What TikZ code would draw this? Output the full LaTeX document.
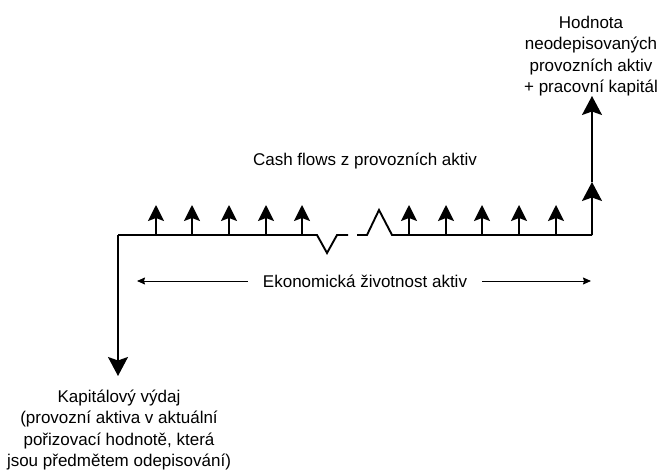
\documentclass[tikz,border=0pt]{standalone}
\usepackage{fontspec}
\setmainfont{Liberation Sans}
\usetikzlibrary{arrows.meta}

\begin{document}
\begin{tikzpicture}[x=1pt, y=-1pt, >=latex,
  timeline/.style={line width=1.9pt, line join=miter},
  flow/.style={line width=1.9pt, -{Stealth[length=16pt,width=16pt,inset=3pt]}},
  bigflow/.style={line width=1.9pt, -{Stealth[length=19pt,width=20pt,inset=3.5pt]}},
  span/.style={line width=1pt, -{Stealth[length=8pt,width=7pt,inset=1pt]}},
  label/.style={font=\fontsize{17}{21.5}\selectfont, align=center, inner sep=0pt}]
  \useasboundingbox (0,0) rectangle (661,473);

  % Time line with the break
  \coordinate (start) at (118,235);
  \coordinate (brkA) at (317,235);
  \coordinate (brkB) at (348,235);
  \coordinate (brkC) at (357,235);
  \coordinate (terminal) at (592,235);
  \draw[timeline] (start) -- (brkA) -- (327,253) -- (337,235) -- (brkB);
  \draw[timeline] (brkC) -- (367,235) -- (379,210) -- (392,235) -- (terminal);

  % Cash flows
  \foreach \x [count=\i] in {156,192,229,266,302,409,446,482,519,556} {
    \coordinate (cf\i) at (\x,235);
    \coordinate (cftip\i) at (\x,205);
    \draw[flow] (cf\i) -- (cftip\i);
  }

  % Terminal value
  \coordinate (tvmid) at (592,182);
  \coordinate (tvtip) at (592,96);
  \draw[bigflow] (terminal) -- (tvmid);
  \draw[bigflow] (tvmid) -- (tvtip);

  % Capital expenditure
  \coordinate (capex) at (118,376);
  \draw[bigflow] (start) -- (capex);

  % Labels
  \node[label] (cashlbl) at (365,161) {Cash flows z provozních aktiv};
  \node[label] (lifelbl) at (365,281) {Ekonomická životnost aktiv};
  \coordinate (lifeL) at (137,281);
  \coordinate (lifeR) at (591,281);
  \draw[span] (lifelbl.west) ++(-15,0) -- (lifeL);
  \draw[span] (lifelbl.east) ++(15,0) -- (lifeR);
  \node[label] (tvlbl) at (591,56) {Hodnota\\neodepisovaných\\provozních aktiv\\+ pracovní kapitál};
  \node[label] (capexlbl) at (119,430) {Kapitálový výdaj\\(provozní aktiva v aktuální\\pořizovací hodnotě, která\\jsou předmětem odepisování)};
\end{tikzpicture}
\end{document}
